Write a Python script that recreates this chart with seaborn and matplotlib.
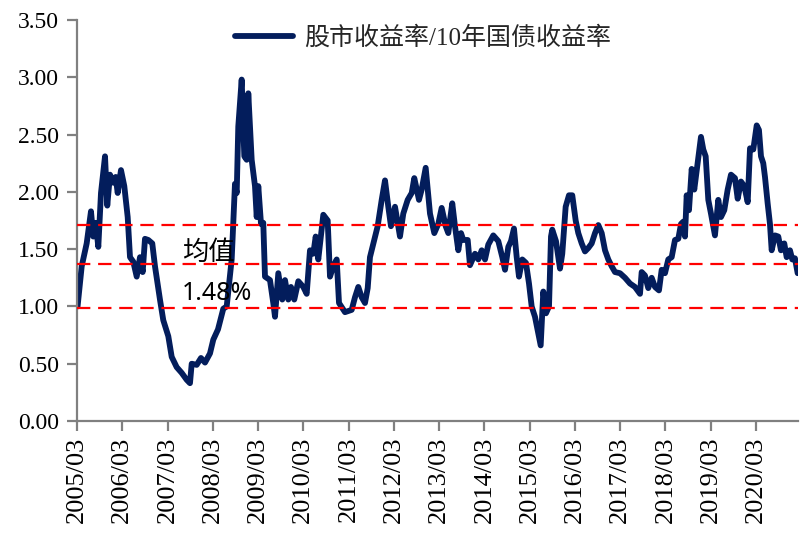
import matplotlib
matplotlib.use("Agg")
import matplotlib.pyplot as plt
import seaborn as sns
import pandas as pd
import numpy as np

# ---- data (decimal year, ratio) ----
years = [
    2005.180, 2005.271, 2005.381, 2005.476, 2005.527, 2005.580, 2005.638, 2005.697,
    2005.786, 2005.836, 2005.896, 2005.969, 2006.022, 2006.066, 2006.139, 2006.212,
    2006.287, 2006.338, 2006.411, 2006.486, 2006.559, 2006.618, 2006.669, 2006.742,
    2006.830, 2006.890, 2007.000, 2007.073, 2007.184, 2007.259, 2007.369, 2007.480,
    2007.590, 2007.663, 2007.701, 2007.811, 2007.906, 2007.995, 2008.105, 2008.178,
    2008.282, 2008.399, 2008.474, 2008.584, 2008.657, 2008.695, 2008.730, 2008.805,
    2008.863, 2008.916, 2008.951, 2009.026, 2009.099, 2009.137, 2009.172, 2009.232,
    2009.282, 2009.320, 2009.430, 2009.503, 2009.541, 2009.614, 2009.702, 2009.762,
    2009.835, 2009.894, 2009.967, 2010.056, 2010.166, 2010.241, 2010.314, 2010.387,
    2010.440, 2010.497, 2010.608, 2010.705, 2010.756, 2010.829, 2010.904, 2010.955,
    2011.087, 2011.235, 2011.308, 2011.381, 2011.456, 2011.529, 2011.589, 2011.639,
    2011.734, 2011.809, 2011.898, 2011.971, 2012.044, 2012.103, 2012.192, 2012.302,
    2012.375, 2012.472, 2012.561, 2012.618, 2012.722, 2012.781, 2012.870, 2012.965,
    2013.060, 2013.148, 2013.223, 2013.312, 2013.369, 2013.457, 2013.517, 2013.590,
    2013.650, 2013.700, 2013.798, 2013.848, 2013.959, 2014.032, 2014.107, 2014.180,
    2014.253, 2014.363, 2014.474, 2014.562, 2014.622, 2014.695, 2014.754, 2014.820,
    2014.880, 2014.931, 2015.004, 2015.085, 2015.152, 2015.211, 2015.284, 2015.344,
    2015.410, 2015.468, 2015.527, 2015.594, 2015.638, 2015.666, 2015.748, 2015.837,
    2015.887, 2015.962, 2016.035, 2016.108, 2016.183, 2016.241, 2016.316, 2016.389,
    2016.462, 2016.537, 2016.610, 2016.683, 2016.758, 2016.831, 2016.904, 2016.979,
    2017.052, 2017.162, 2017.273, 2017.383, 2017.493, 2017.604, 2017.641, 2017.714,
    2017.787, 2017.862, 2017.935, 2018.023, 2018.083, 2018.156, 2018.229, 2018.304,
    2018.377, 2018.450, 2018.510, 2018.560, 2018.598, 2018.635, 2018.686, 2018.746,
    2018.803, 2018.878, 2018.951, 2019.002, 2019.055, 2019.113, 2019.172, 2019.260,
    2019.333, 2019.393, 2019.466, 2019.541, 2019.614, 2019.702, 2019.762, 2019.835,
    2019.908, 2019.983, 2020.034, 2020.107, 2020.182, 2020.232, 2020.277, 2020.327,
    2020.365, 2020.424, 2020.475, 2020.513, 2020.586, 2020.659, 2020.718, 2020.791,
    2020.844, 2020.917, 2020.968, 2021.027, 2021.087,
]
ratio = [
    1.00, 1.35, 1.55, 1.83, 1.61, 1.73, 1.52, 1.99,
    2.31, 1.88, 2.15, 2.08, 2.13, 1.99, 2.19, 2.05,
    1.78, 1.43, 1.39, 1.26, 1.43, 1.30, 1.59, 1.58,
    1.55, 1.35, 1.06, 0.88, 0.74, 0.56, 0.47, 0.42,
    0.36, 0.33, 0.50, 0.49, 0.55, 0.51, 0.59, 0.71,
    0.80, 0.98, 1.00, 1.41, 2.07, 1.99, 2.57, 2.98,
    2.31, 2.28, 2.86, 2.28, 2.05, 1.78, 2.05, 1.72,
    1.73, 1.26, 1.23, 1.03, 0.91, 1.29, 1.06, 1.23,
    1.06, 1.17, 1.06, 1.22, 1.17, 1.11, 1.49, 1.46,
    1.61, 1.41, 1.80, 1.75, 1.26, 1.35, 1.41, 1.03,
    0.95, 0.97, 1.08, 1.17, 1.08, 1.03, 1.16, 1.43,
    1.58, 1.70, 1.93, 2.10, 1.87, 1.70, 1.87, 1.61,
    1.81, 1.93, 1.99, 2.12, 1.93, 2.02, 2.21, 1.81,
    1.64, 1.72, 1.86, 1.70, 1.64, 1.90, 1.70, 1.49,
    1.64, 1.58, 1.58, 1.36, 1.46, 1.41, 1.49, 1.41,
    1.54, 1.62, 1.57, 1.43, 1.32, 1.52, 1.57, 1.68,
    1.43, 1.26, 1.41, 1.38, 1.20, 1.00, 0.91, 0.79,
    0.66, 1.13, 0.94, 1.00, 1.61, 1.67, 1.57, 1.33,
    1.46, 1.87, 1.97, 1.97, 1.75, 1.64, 1.55, 1.48,
    1.51, 1.55, 1.64, 1.71, 1.64, 1.49, 1.41, 1.35,
    1.30, 1.29, 1.25, 1.20, 1.17, 1.11, 1.30, 1.27,
    1.16, 1.25, 1.17, 1.14, 1.32, 1.29, 1.41, 1.43,
    1.58, 1.59, 1.72, 1.74, 1.61, 1.97, 1.84, 2.20,
    2.02, 2.25, 2.48, 2.37, 2.31, 1.93, 1.81, 1.62,
    1.93, 1.78, 1.84, 2.02, 2.15, 2.12, 1.94, 2.09,
    2.05, 1.91, 2.38, 2.37, 2.58, 2.54, 2.31, 2.25,
    2.13, 1.90, 1.72, 1.49, 1.62, 1.61, 1.49, 1.55,
    1.43, 1.49, 1.41, 1.42, 1.29,
]
band_levels = [1.71, 1.37, 0.99]
series_label = "股市收益率/10年国债收益率"
mean_title = "均值"
mean_text = "1.48%"
tick_years = list(range(2005, 2021))
tick_labels = [f"{y}/03" for y in tick_years]
y_ticks = [0.0, 0.5, 1.0, 1.5, 2.0, 2.5, 3.0, 3.5]

df = pd.DataFrame({"year": years, "ratio": ratio})

sns.set_style("ticks")
plt.rcParams["font.family"] = ["Liberation Serif", "Noto Sans CJK SC", "DejaVu Sans"]

fig = plt.figure(figsize=(8.12, 5.52), dpi=100)
ax = fig.add_axes([0.0948, 0.2373, 0.8879, 0.7265])

navy = "#031d5c"
sns.lineplot(data=df, x="year", y="ratio", ax=ax, color=navy, linewidth=4.2,
             label=series_label, zorder=2)

for lv in band_levels:
    ax.axhline(lv, color="#ff0000", linewidth=1.6, linestyle=(0, (6, 3.5)), zorder=3)

x_left = 2005 + 2 / 12
ax.set_xlim(x_left, x_left + 721 / 45.27)
ax.set_ylim(0, 3.5)
ax.set_xticks([y + 2 / 12 for y in tick_years])
ax.set_xticklabels(tick_labels, rotation=90, fontsize=19, family="Liberation Serif")
ax.set_yticks(y_ticks)
ax.set_yticklabels([f"{v:.2f}" for v in y_ticks], fontsize=17, family="Liberation Serif")
ax.set_xlabel("")
ax.set_ylabel("")

for side in ["top", "right"]:
    ax.spines[side].set_visible(False)
for side in ["left", "bottom"]:
    ax.spines[side].set_color("#808080")
    ax.spines[side].set_linewidth(1.6)
ax.tick_params(axis="both", direction="out", length=7, width=1.6, color="#808080",
               labelcolor="black")
ax.tick_params(axis="y", pad=6)
ax.tick_params(axis="x", pad=4)

leg = ax.legend(loc="upper center", bbox_to_anchor=(0.48, 1.04), frameon=False,
                prop={"family": ["Liberation Serif", "Noto Sans CJK SC"], "size": 18},
                handlelength=2.3, handletextpad=0.45)
for h in leg.get_lines():
    h.set_linewidth(4.2)
    h.set_solid_capstyle("round")

ax.text(0.1456, 0.420, mean_title, transform=ax.transAxes, ha="left", va="center",
        fontsize=19, family=["Noto Sans CJK SC", "DejaVu Sans"], color="black", zorder=4)
ax.text(0.1456, 0.318, mean_text, transform=ax.transAxes, ha="left", va="center",
        fontsize=18, family=["Noto Sans", "DejaVu Sans"], color="black", zorder=4)

fig.savefig("out.png", dpi=100)
